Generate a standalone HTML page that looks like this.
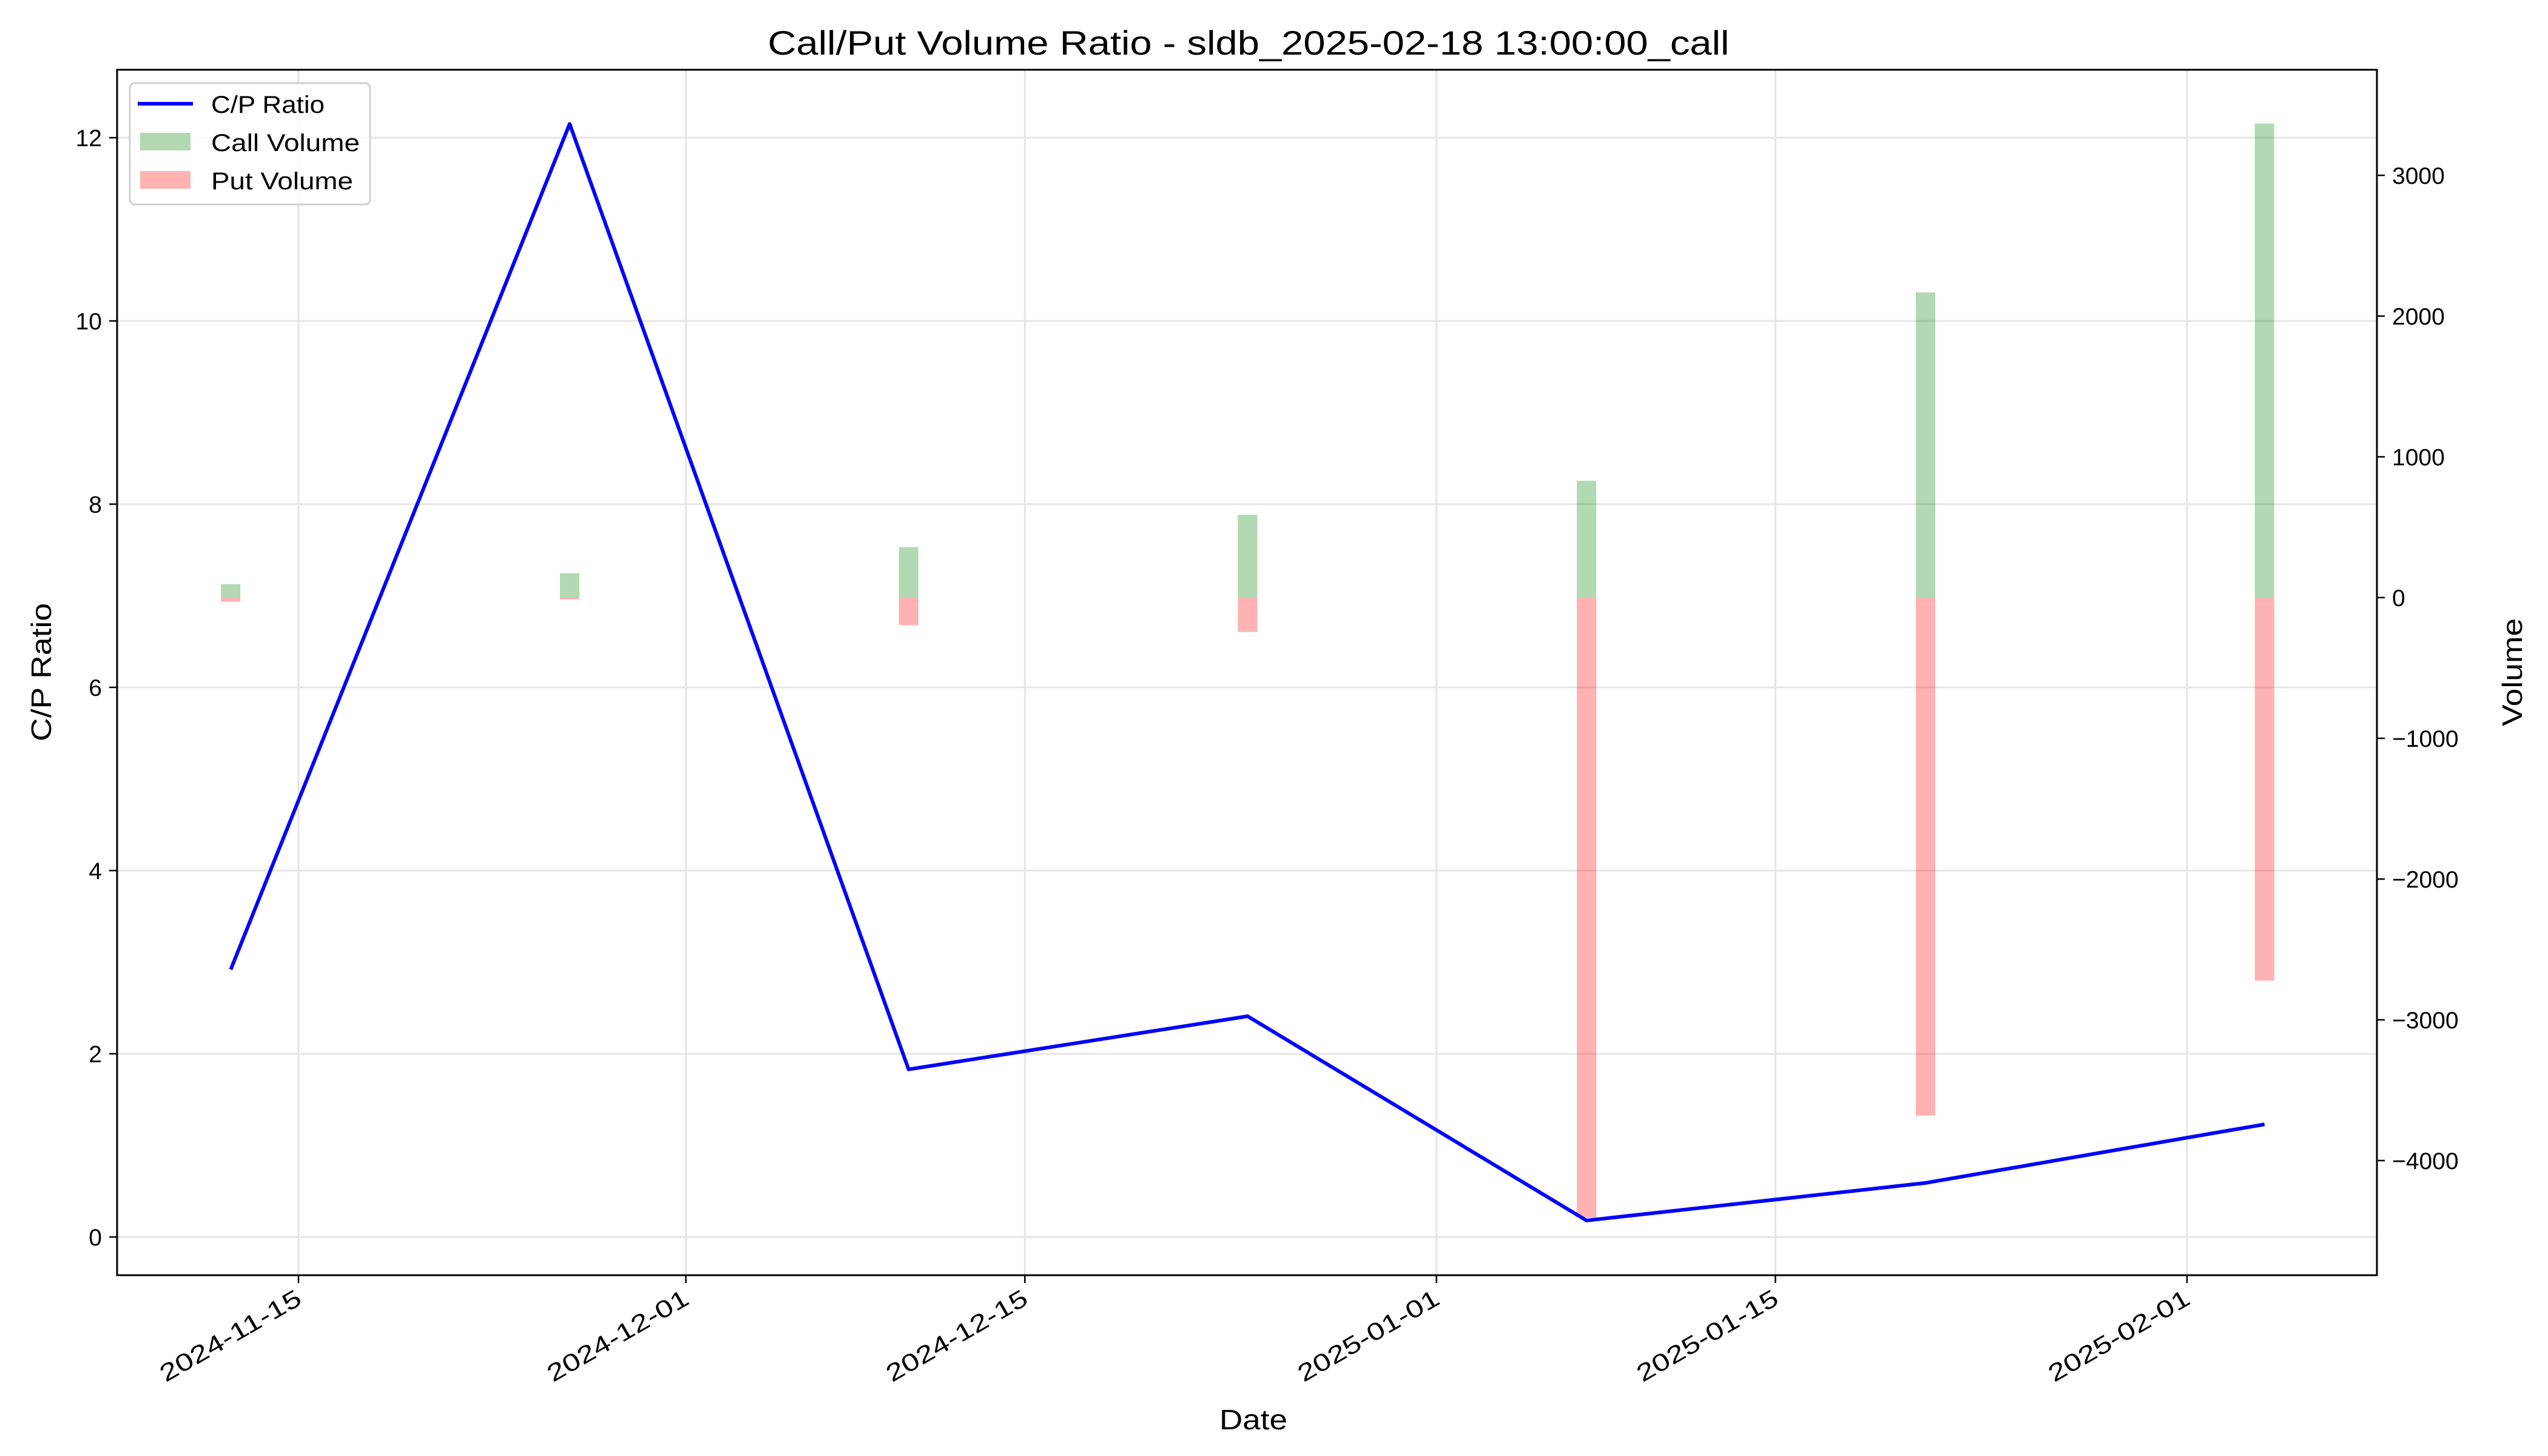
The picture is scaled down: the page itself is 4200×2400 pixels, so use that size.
<!DOCTYPE html>
<html><head><meta charset="utf-8"><style>
html,body{margin:0;padding:0;background:#fff;}
svg{display:block;font-family:"Liberation Sans","DejaVu Sans",sans-serif;}
</style></head><body>
<svg id="chart" width="4200" height="2400" viewBox="0 0 4200 2400" xmlns="http://www.w3.org/2000/svg">
<rect width="4200" height="2400" fill="#fff"/>
<g id="grid"></g>
<g id="bars"></g>
<g id="line"></g>
<g id="axes"></g>
<text x="2058" y="90" font-size="56" text-anchor="middle" textLength="1585" lengthAdjust="spacingAndGlyphs">Call/Put Volume Ratio - sldb_2025-02-18 13:00:00_call</text>
<text x="2066" y="2356" font-size="46" text-anchor="middle" textLength="112" lengthAdjust="spacingAndGlyphs">Date</text>
<text transform="translate(84,1108) rotate(-90)" font-size="46" text-anchor="middle" textLength="228" lengthAdjust="spacingAndGlyphs">C/P Ratio</text>
<text transform="translate(4157,1108) rotate(-90)" font-size="46" text-anchor="middle" textLength="178" lengthAdjust="spacingAndGlyphs">Volume</text>
<g>
<rect x="214" y="137" width="396" height="200" rx="8" fill="#fff" fill-opacity="0.8" stroke="#d0d0d0" stroke-width="3"/>
<line x1="227" y1="171" x2="318" y2="171" stroke="#0000ff" stroke-width="6"/>
<text x="348" y="186" font-size="40" textLength="187" lengthAdjust="spacingAndGlyphs">C/P Ratio</text>
<rect x="231" y="219" width="83" height="29" fill="#b2d8b2"/>
<text x="348" y="249" font-size="40" textLength="245" lengthAdjust="spacingAndGlyphs">Call Volume</text>
<rect x="231" y="282" width="83" height="29" fill="#ffb2b2"/>
<text x="348" y="312" font-size="40" textLength="234" lengthAdjust="spacingAndGlyphs">Put Volume</text>
</g>
</svg>
<script>
// data (days relative to 2024-11-15)
const dayOffsets = [-2.8, 11.2, 25.2, 39.2, 53.2, 67.2, 81.2];
const cpRatio = [2.92, 12.15, 1.83, 2.41, 0.18, 0.59, 1.23];
const callVolume = [95, 172, 358, 588, 830, 2168, 3368];
const putVolume = [-30, -13, -196, -244, -4406, -3680, -2722];
const xTickLabels = ["2024-11-15","2024-12-01","2024-12-15","2025-01-01","2025-01-15","2025-02-01"];
const xTickDays = [0, 16, 30, 47, 61, 78];
const yTicks = [0, 2, 4, 6, 8, 10, 12];
const y2Ticks = [-4000, -3000, -2000, -1000, 0, 1000, 2000, 3000];

const L=193,R=3918,T=115,B=2102;
const NS="http://www.w3.org/2000/svg";
function xS(d){return 492+d*39.91;}
function yS(v){return 2039-v*151;}
function y2S(v){return 985-v*0.232;}
function mk(tag,attrs,parent){const e=document.createElementNS(NS,tag);for(const k in attrs)e.setAttribute(k,attrs[k]);parent.appendChild(e);return e;}
const grid=document.getElementById('grid'),bars=document.getElementById('bars'),lineG=document.getElementById('line'),axes=document.getElementById('axes');

xTickDays.forEach((d,i)=>{
  const x=xS(d);
  const g=mk('line',{x1:x,x2:x,y1:T,y2:B,stroke:'#e5e5e5','stroke-width':3},grid);
  
  
  const t=mk('line',{x1:x,x2:x,y1:B,y2:B+13,stroke:'#000','stroke-width':2.5},axes);
  
  
  const lb=mk('text',{transform:`translate(${x+8},${B+46}) rotate(-30)`,'font-size':40,'text-anchor':'end',textLength:262,lengthAdjust:'spacingAndGlyphs'},axes);
  lb.textContent=xTickLabels[i];
  
  
});
yTicks.forEach(v=>{
  const y=yS(v);
  const g=mk('line',{x1:L,x2:R,y1:y,y2:y,stroke:'#e5e5e5','stroke-width':3},grid);
  
  
  const t=mk('line',{x1:L-13,x2:L,y1:y,y2:y,stroke:'#000','stroke-width':2.5},axes);
  
  
  const lb=mk('text',{x:L-25,y:y+14,'font-size':39,'text-anchor':'end'},axes);
  lb.textContent=String(v);
  
  
});
y2Ticks.forEach(v=>{
  const y=y2S(v);
  const t=mk('line',{x1:R,x2:R+13,y1:y,y2:y,stroke:'#000','stroke-width':2.5},axes);
  
  
  const lb=mk('text',{x:R+25,y:y+14,'font-size':39,'text-anchor':'start'},axes);
  lb.textContent=v<0?'\u2212'+Math.abs(v):String(v);
  
  
});
dayOffsets.forEach((d,i)=>{
  const x=xS(d)-16;
  const c=mk('rect',{x:x,width:32,y:y2S(callVolume[i]),height:y2S(0)-y2S(callVolume[i]),fill:'#008000','fill-opacity':0.3},bars);
  
  
  const p=mk('rect',{x:x,width:32,y:y2S(0),height:y2S(putVolume[i])-y2S(0),fill:'#ff0000','fill-opacity':0.3},bars);
  
  
});
const pts=dayOffsets.map((d,i)=>xS(d).toFixed(1)+','+yS(cpRatio[i]).toFixed(1)).join(' ');
const pl=mk('polyline',{points:pts,fill:'none',stroke:'#0000ff','stroke-width':6,'stroke-linejoin':'round'},lineG);


const frame=mk('rect',{x:L,y:T,width:R-L,height:B-T,fill:'none',stroke:'#000','stroke-width':3},axes);


</script>
</body></html>
